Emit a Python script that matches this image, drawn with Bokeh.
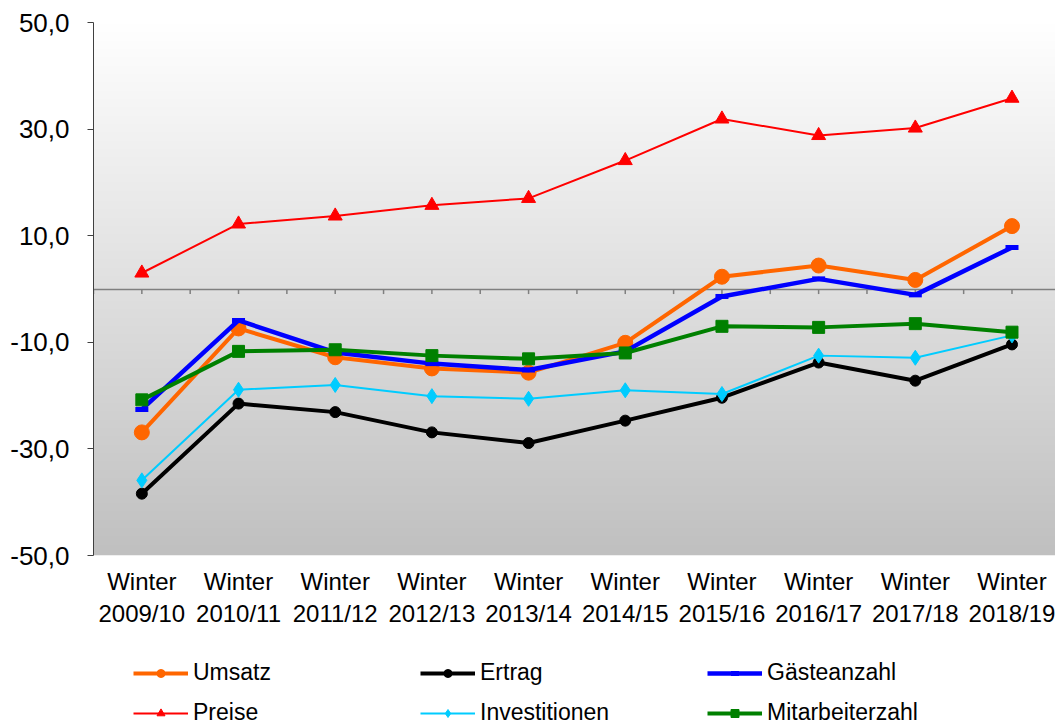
import numpy as np
from bokeh.plotting import figure
from bokeh.layouts import column
from bokeh.models import Range1d, FixedTicker, Legend, LegendItem
from bokeh.embed import file_html
from bokeh.resources import INLINE

# ---- data ----
seasons = ["2009/10", "2010/11", "2011/12", "2012/13", "2013/14",
           "2014/15", "2015/16", "2016/17", "2017/18", "2018/19"]
umsatz = [-26.9, -7.4, -12.8, -14.9, -15.7, -10.1, 2.3, 4.4, 1.7, 11.8]
ertrag = [-38.4, -21.5, -23.1, -26.9, -28.9, -24.7, -20.4, -13.8, -17.2, -10.4]
gaeste = [-22.6, -5.9, -11.9, -14.0, -15.2, -11.7, -1.4, 1.9, -1.1, 7.8]
preise = [3.0, 12.2, 13.7, 15.7, 17.0, 24.1, 31.9, 28.8, 30.2, 35.8]
invest = [-35.9, -18.9, -18.0, -20.1, -20.6, -19.0, -19.7, -12.5, -12.9, -8.7]
mitarb = [-20.8, -11.7, -11.4, -12.5, -13.1, -12.0, -7.0, -7.2, -6.5, -8.1]
y_ticks = [-50, -30, -10, 10, 30, 50]

FONT = "Liberation Sans"
x = list(range(len(seasons)))
x0, x1 = -0.5, len(seasons) - 0.55
y0, y1 = -50, 50

series = [
    ("Umsatz", umsatz, "#ff6600", 4, "circle", 15),
    ("Ertrag", ertrag, "#000000", 4, "circle", 11),
    ("Gästeanzahl", gaeste, "#0000ff", 4.5, "dash", 13),
    ("Preise", preise, "#ff0000", 2, "triangle", 14),
    ("Investitionen", invest, "#00ccff", 2, "diamond", 15),
    ("Mitarbeiterzahl", mitarb, "#008000", 4, "square", 12),
]


def add_series(fig, xs, ys, col, lw, mk, sz):
    rl = fig.line(xs, ys, line_color=col, line_width=lw)
    if mk == "dash":
        rm = fig.scatter(xs, ys, marker="dash", size=sz, line_color=col, line_width=5)
    else:
        rm = fig.scatter(xs, ys, marker=mk, size=sz, fill_color=col, line_color=col)
    return rl, rm


p = figure(width=1055, height=640, x_range=Range1d(x0, x1), y_range=Range1d(y0, y1),
           output_backend="svg", toolbar_location=None,
           min_border_left=93, min_border_right=0, min_border_top=22, min_border_bottom=85)
p.grid.visible = False
p.outline_line_color = None
p.background_fill_color = "white"
p.border_fill_color = "white"

# gradient background (white top -> grey bottom)
ny = 256
g = np.linspace(192, 255, ny).astype(np.uint8)
img = np.empty((ny, 1), dtype=np.uint32)
view = img.view(dtype=np.uint8).reshape((ny, 1, 4))
view[:, 0, 0] = g
view[:, 0, 1] = g
view[:, 0, 2] = g
view[:, 0, 3] = 255
p.image_rgba(image=[img], x=x0, y=y0, dw=x1 - x0, dh=y1 - y0)

# zero line with category ticks
p.hspan(y=[0], line_color="#7f7f7f", line_width=1.5)
tick_x = np.arange(-0.5, len(seasons), 0.5)
p.segment(x0=tick_x, y0=0, x1=tick_x, y1=-0.95, line_color="#7f7f7f", line_width=1.5)

for name, ys, col, lw, mk, sz in series:
    add_series(p, x, ys, col, lw, mk, sz)

# y axis
p.yaxis.ticker = FixedTicker(ticks=y_ticks)
p.yaxis.major_label_overrides = {t: f"{t:.1f}".replace(".", ",") for t in y_ticks}
p.yaxis.major_tick_out = 6
p.yaxis.major_tick_in = 0
p.yaxis.minor_tick_line_color = None
p.yaxis.axis_line_color = "#404040"
p.yaxis.major_tick_line_color = "#404040"
p.yaxis.major_label_text_font = FONT
p.yaxis.major_label_text_font_size = "26px"
p.yaxis.major_label_text_color = "black"
p.yaxis.major_label_standoff = 18

# x axis (labels only; line drawn at zero)
p.xaxis.ticker = FixedTicker(ticks=x)
p.xaxis.major_label_overrides = {i: "Winter\n" + s for i, s in enumerate(seasons)}
p.xaxis.axis_line_color = None
p.xaxis.major_tick_line_color = None
p.xaxis.minor_tick_line_color = None
p.xaxis.major_label_text_font = FONT
p.xaxis.major_label_text_font_size = "24px"
p.xaxis.major_label_text_color = "black"
p.xaxis.major_label_standoff = 6

# legend figure (same series drawn far outside its visible range; only the legend shows)
p2 = figure(width=1055, height=84, output_backend="svg", toolbar_location=None,
            x_axis_location=None, y_axis_location=None,
            min_border=0, x_range=Range1d(100, 101), y_range=Range1d(100, 101))
p2.grid.visible = False
p2.outline_line_color = None
p2.background_fill_color = "white"
p2.border_fill_color = "white"
items = []
for name, ys, col, lw, mk, sz in series:
    rl, rm = add_series(p2, x, ys, col, lw, mk, sz)
    items.append(LegendItem(label=name, renderers=[rl, rm]))

legend = Legend(items=items, location=(40, -2), orientation="horizontal", ncols=3,
                glyph_width=55, glyph_height=20, label_width=214, label_standoff=5,
                spacing=13, padding=0, margin=0, border_line_alpha=0,
                background_fill_alpha=0, label_text_font=FONT,
                label_text_font_size="23px", label_text_color="black")
p2.add_layout(legend)

open("out.html", "w").write(file_html(column(p, p2, spacing=0), INLINE))
